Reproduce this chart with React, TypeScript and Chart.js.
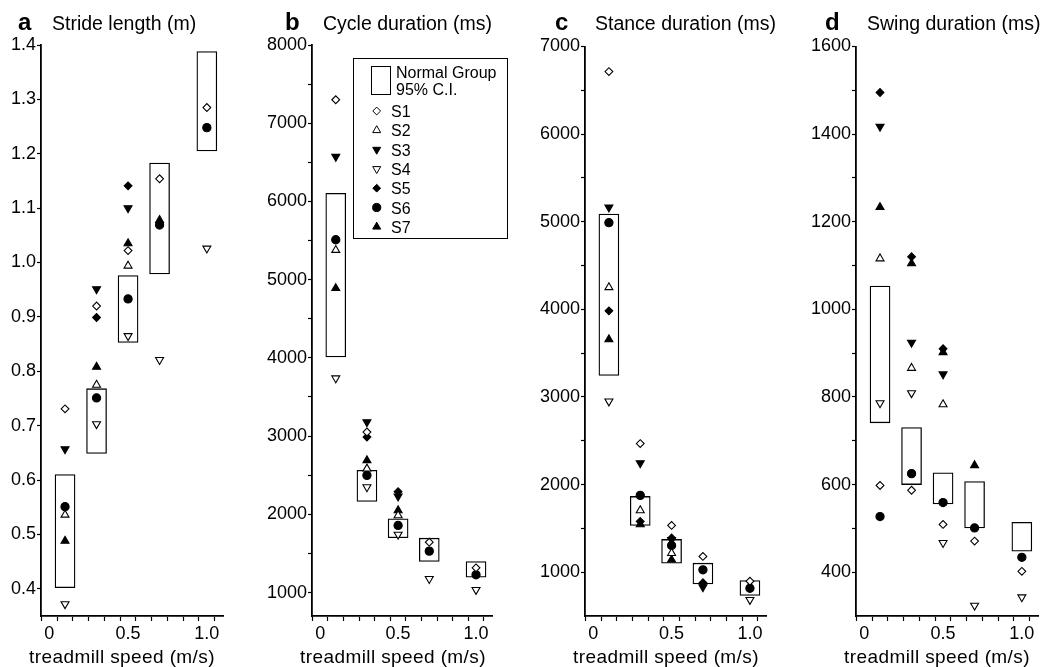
import React, { useEffect, useRef } from 'react';
import { Chart, registerables } from 'chart.js';
import { drawPoint } from 'chart.js/helpers';

Chart.register(...registerables);

const FONT = "'Liberation Sans', Arial, Helvetica, sans-serif";

// ---------- shared data ----------
const speeds = [0.1, 0.3, 0.5, 0.7, 1.0];
const xTickValues = [0, 0.1, 0.2, 0.3, 0.4, 0.5, 0.6, 0.7, 0.8, 0.9, 1.0];
const xTickLabels = ['0', '', '', '', '', '0.5', '', '', '', '', '1.0'];
const xAxisTitle = 'treadmill speed (m/s)';

const subjectNames = ['S1', 'S2', 'S3', 'S4', 'S5', 'S6', 'S7'];
const subjectStyles = ['rectRot', 'triangle', 'triangle', 'triangle', 'rectRot', 'circle', 'triangle'];
const subjectRotations = [0, 0, 180, 180, 0, 0, 0];
const subjectFilled = [false, false, true, false, true, true, true];
const subjectRadius = [3.9, 4.6, 4.6, 4.6, 3.9, 4.1, 4.6];
const legendTitle = ['Normal Group', '95% C.I.'];

// ---------- a: stride length ----------
const strideS1 = [0.731, 0.920, 1.022, 1.154, 1.285];
const strideS2 = [0.536, 0.775, 0.994, null, null];
const strideS3 = [0.657, 0.951, 1.100, null, null];
const strideS4 = [0.372, 0.703, 0.865, 0.821, 1.026];
const strideS5 = [null, 0.899, 1.141, null, null];
const strideS6 = [0.551, 0.751, 0.933, 1.069, 1.248];
const strideS7 = [0.488, 0.808, 1.035, 1.078, null];
const strideCiLow = [0.402, 0.649, 0.853, 0.979, 1.205];
const strideCiHigh = [0.610, 0.768, 0.976, 1.183, 1.388];
const strideYTicks = [0.4, 0.5, 0.6, 0.7, 0.8, 0.9, 1.0, 1.1, 1.2, 1.3, 1.4];
const strideYLabels = ['0.4', '0.5', '0.6', '0.7', '0.8', '0.9', '1.0', '1.1', '1.2', '1.3', '1.4'];

// ---------- b: cycle duration ----------
const cycleS1 = [7300, 3052, null, 1644, 1316];
const cycleS2 = [5378, 2583, 1986, null, null];
const cycleS3 = [6572, 3180, 2230, null, null];
const cycleS4 = [3740, 2348, 1742, 1175, 1035];
const cycleS5 = [null, 2988, 2290, null, null];
const cycleS6 = [5510, 2498, 1858, 1529, 1227];
const cycleS7 = [4890, 2690, 2050, null, null];
const cycleCiLow = [4012, 2165, 1700, 1397, 1196];
const cycleCiHigh = [6103, 2562, 1943, 1695, 1397];
const cycleYTicks = [1000, 1500, 2000, 2500, 3000, 3500, 4000, 4500, 5000, 5500, 6000, 6500, 7000, 7500, 8000];
const cycleYLabels = ['1000', '', '2000', '', '3000', '', '4000', '', '5000', '', '6000', '', '7000', '', '8000'];

// ---------- c: stance duration ----------
const stanceS1 = [6714, 2468, 1534, 1180, 897];
const stanceS2 = [4251, 1705, 1217, null, null];
const stanceS3 = [5165, 2246, 1370, 829, null];
const stanceS4 = [2951, null, null, null, 685];
const stanceS5 = [3983, 1580, 1390, 879, null];
const stanceS6 = [4989, 1877, 1305, 1027, 817];
const stanceS7 = [3656, 1545, 1142, null, null];
const stanceCiLow = [3245, 1534, 1103, 867, 734];
const stanceCiHigh = [5088, 1865, 1374, 1103, 905];
const stanceYTicks = [1000, 1500, 2000, 2500, 3000, 3500, 4000, 4500, 5000, 5500, 6000, 6500, 7000];
const stanceYLabels = ['1000', '', '2000', '', '3000', '', '4000', '', '5000', '', '6000', '', '7000'];

// ---------- d: swing duration ----------
const swingS1 = [598, 587, 509, 471, 402];
const swingS2 = [1116, 866, 783, null, null];
const swingS3 = [1417, 924, 852, null, null];
const swingS4 = [786, 809, 467, 324, 343];
const swingS5 = [1495, 1120, 910, null, null];
const swingS6 = [527, 625, 559, 501, 434];
const swingS7 = [1233, 1105, 902, 644, null];
const swingCiLow = [741, 600, 556, 501, 448];
const swingCiHigh = [1053, 730, 627, 607, 514];
const swingYTicks = [400, 500, 600, 700, 800, 900, 1000, 1100, 1200, 1300, 1400, 1500, 1600];
const swingYLabels = ['400', '', '600', '', '800', '', '1000', '', '1200', '', '1400', '', '1600'];

type Layout = {
  canvasLeft: number; canvasWidth: number;
  areaLeft: number; areaRight: number; areaTop: number; areaBottom: number;
  letterX: number; titleX: number;
};

type Panel = {
  letter: string; title: string;
  subjects: (number | null)[][];
  ciLow: number[]; ciHigh: number[];
  yMin: number; yMax: number; yTicks: number[]; yLabels: string[];
  legend: boolean; layout: Layout;
};

const H = 667;

const panels: Panel[] = [
  {
    letter: 'a', title: 'Stride length (m)',
    subjects: [strideS1, strideS2, strideS3, strideS4, strideS5, strideS6, strideS7],
    ciLow: strideCiLow, ciHigh: strideCiHigh,
    yMin: 0.35, yMax: 1.4, yTicks: strideYTicks, yLabels: strideYLabels, legend: false,
    layout: { canvasLeft: 0, canvasWidth: 262, areaLeft: 41, areaRight: 223, areaTop: 45, areaBottom: 616, letterX: 18, titleX: 52 },
  },
  {
    letter: 'b', title: 'Cycle duration (ms)',
    subjects: [cycleS1, cycleS2, cycleS3, cycleS4, cycleS5, cycleS6, cycleS7],
    ciLow: cycleCiLow, ciHigh: cycleCiHigh,
    yMin: 700, yMax: 8000, yTicks: cycleYTicks, yLabels: cycleYLabels, legend: true,
    layout: { canvasLeft: 262, canvasWidth: 272, areaLeft: 312, areaRight: 492, areaTop: 45, areaBottom: 616, letterX: 285, titleX: 323 },
  },
  {
    letter: 'c', title: 'Stance duration (ms)',
    subjects: [stanceS1, stanceS2, stanceS3, stanceS4, stanceS5, stanceS6, stanceS7],
    ciLow: stanceCiLow, ciHigh: stanceCiHigh,
    yMin: 500, yMax: 7000, yTicks: stanceYTicks, yLabels: stanceYLabels, legend: false,
    layout: { canvasLeft: 534, canvasWidth: 268, areaLeft: 585, areaRight: 766, areaTop: 46.5, areaBottom: 616, letterX: 555, titleX: 595 },
  },
  {
    letter: 'd', title: 'Swing duration (ms)',
    subjects: [swingS1, swingS2, swingS3, swingS4, swingS5, swingS6, swingS7],
    ciLow: swingCiLow, ciHigh: swingCiHigh,
    yMin: 300, yMax: 1600, yTicks: swingYTicks, yLabels: swingYLabels, legend: false,
    layout: { canvasLeft: 802, canvasWidth: 242, areaLeft: 856, areaRight: 1038, areaTop: 46.5, areaBottom: 616, letterX: 825, titleX: 867 },
  },
];

function drawLegend(ctx: CanvasRenderingContext2D, off: number) {
  ctx.lineWidth = 1;
  ctx.strokeStyle = '#000';
  ctx.strokeRect(353.5 - off, 58.5, 154, 180);
  ctx.strokeRect(371.5 - off, 66.5, 19, 28);
  ctx.font = `16px ${FONT}`;
  ctx.textAlign = 'left';
  ctx.textBaseline = 'alphabetic';
  ctx.fillStyle = '#000';
  ctx.fillText(legendTitle[0], 396 - off, 78);
  ctx.fillText(legendTitle[1], 396 - off, 95);
  subjectNames.forEach((n, i) => {
    const y = 111 + i * 19.3;
    ctx.fillStyle = subjectFilled[i] ? '#000' : '#fff';
    ctx.strokeStyle = '#000';
    ctx.lineWidth = 1;
    drawPoint(ctx, { pointStyle: subjectStyles[i] as any, rotation: subjectRotations[i], radius: subjectRadius[i], borderWidth: 1 } as any, 376.7 - off, y);
    ctx.fillStyle = '#000';
    ctx.fillText(n, 391 - off, y + 6);
  });
}

function PanelChart({ p }: { p: Panel }) {
  const ref = useRef<HTMLCanvasElement>(null);
  const L = p.layout;
  useEffect(() => {
    const cv = ref.current!;
    const datasets: any[] = [
      {
        type: 'bar',
        label: 'Normal Group 95% C.I.',
        data: speeds.map((s, i) => ({ x: s, y: [p.ciLow[i], p.ciHigh[i]] })),
        backgroundColor: '#fff',
        borderColor: '#000',
        borderWidth: 1.3,
        borderSkipped: false,
        barThickness: 20,
        order: 10,
      },
      ...p.subjects.map((vals, si) => ({
        type: 'scatter',
        label: subjectNames[si],
        data: speeds
          .map((s, i) => (vals[i] == null ? null : { x: s, y: vals[i] }))
          .filter((d) => d !== null),
        pointStyle: subjectStyles[si],
        rotation: subjectRotations[si],
        pointRadius: subjectRadius[si],
        backgroundColor: subjectFilled[si] ? '#000' : '#fff',
        borderColor: '#000',
        borderWidth: 1.1,
        showLine: false,
        order: 0,
      })),
    ];

    const deco = {
      id: 'deco',
      afterDraw(chart: any) {
        const ctx: CanvasRenderingContext2D = chart.ctx;
        ctx.save();
        ctx.fillStyle = '#000';
        ctx.textBaseline = 'alphabetic';
        ctx.textAlign = 'left';
        ctx.font = `bold 24px ${FONT}`;
        ctx.fillText(p.letter, L.letterX - L.canvasLeft, 30);
        ctx.font = `19.5px ${FONT}`;
        ctx.fillText(p.title, L.titleX - L.canvasLeft, 30);
        ctx.font = `19px ${FONT}`;
        (ctx as any).letterSpacing = '0.4px';
        ctx.textAlign = 'center';
        ctx.fillText(xAxisTitle, chart.chartArea.left + 81, 663);
        (ctx as any).letterSpacing = '0px';
        if (p.legend) drawLegend(ctx, L.canvasLeft);
        ctx.restore();
      },
    };

    const chart = new Chart(cv, {
      type: 'scatter',
      data: { datasets },
      plugins: [deco],
      options: {
        responsive: false,
        animation: false,
        events: [],
        layout: {
          padding: {
            left: 0,
            top: L.areaTop,
            right: L.canvasWidth - (L.areaRight - L.canvasLeft),
            bottom: 0,
          },
        },
        plugins: { legend: { display: false }, tooltip: { enabled: false } },
        scales: {
          x: {
            type: 'linear',
            min: 0,
            max: 1.05,
            afterBuildTicks: (s: any) => { s.ticks = xTickValues.map((v) => ({ value: v })); },
            afterFit: (s: any) => { s.height = H - L.areaBottom; },
            grid: { display: true, drawOnChartArea: false, drawTicks: true, tickLength: 5, tickColor: '#000', tickWidth: 1.2, color: '#000' },
            border: { display: true, color: '#000', width: 1.8 },
            ticks: {
              color: '#000', autoSkip: false, maxRotation: 0, padding: 2,
              font: { family: FONT, size: 18 },
              callback: (_v: any, i: number) => xTickLabels[i],
            },
          },
          y: {
            type: 'linear',
            min: p.yMin,
            max: p.yMax,
            afterBuildTicks: (s: any) => { s.ticks = p.yTicks.map((v) => ({ value: v })); },
            afterFit: (s: any) => { s.width = L.areaLeft - L.canvasLeft; },
            grid: { display: true, drawOnChartArea: false, drawTicks: true, tickLength: 4, tickColor: '#000', tickWidth: 1.2, color: '#000' },
            border: { display: true, color: '#000', width: 1.8 },
            ticks: {
              color: '#000', autoSkip: false, padding: 1,
              font: { family: FONT, size: 18 },
              callback: (_v: any, i: number) => p.yLabels[i],
            },
          },
        },
      } as any,
    });
    return () => chart.destroy();
  }, []);
  return (
    <canvas
      ref={ref}
      width={L.canvasWidth}
      height={H}
      style={{ position: 'absolute', left: L.canvasLeft, top: 0, width: L.canvasWidth, height: H }}
    />
  );
}

export default function App() {
  return (
    <div style={{ position: 'absolute', left: 0, top: 0, width: 1044, height: H, background: '#fff', overflow: 'hidden' }}>
      {panels.map((p) => (
        <PanelChart key={p.letter} p={p} />
      ))}
    </div>
  );
}
